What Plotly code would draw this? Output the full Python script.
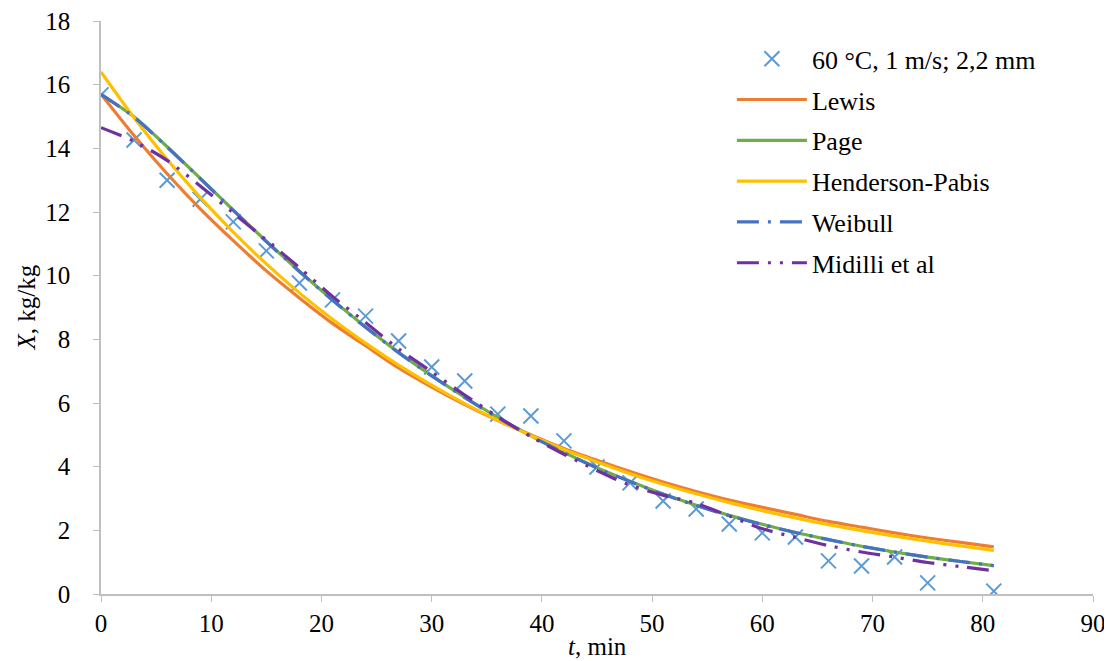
import plotly.graph_objects as go

t_exp = [0, 3, 6, 9, 12, 15, 18, 21, 24, 27, 30, 33, 36, 39, 42, 45, 48, 51, 54, 57, 60, 63, 66, 69, 72, 75, 81]
x_exp = [15.68, 14.26, 13.0, 12.4, 11.69, 10.78, 9.77, 9.24, 8.73, 7.95, 7.13, 6.69, 5.65, 5.59, 4.81, 3.99,
         3.49, 2.92, 2.67, 2.2, 1.92, 1.79, 1.04, 0.88, 1.16, 0.35, 0.09]

t_model = [0, 3, 6, 9, 12, 15, 18, 21, 24, 27, 30, 33, 36, 39, 42, 45, 48, 51, 54, 57, 60, 63, 66, 69, 72, 75, 78, 81]
lewis = [15.7, 14.4, 13.2, 12.1, 11.1, 10.15, 9.3, 8.5, 7.8, 7.1, 6.5, 5.95, 5.45, 5.0, 4.57, 4.2, 3.85, 3.52,
         3.22, 2.95, 2.72, 2.5, 2.28, 2.1, 1.92, 1.76, 1.62, 1.48]
page = [15.7, 14.99, 14.05, 13.06, 12.06, 11.08, 10.14, 9.24, 8.39, 7.59, 6.86, 6.18, 5.55, 4.97, 4.45, 3.97,
        3.54, 3.14, 2.79, 2.47, 2.19, 1.93, 1.71, 1.5, 1.32, 1.16, 1.02, 0.89]
henderson = [16.4, 14.96, 13.65, 12.46, 11.37, 10.37, 9.46, 8.63, 7.88, 7.19, 6.56, 5.98, 5.46, 4.98, 4.54, 4.15,
             3.78, 3.45, 3.15, 2.87, 2.62, 2.39, 2.18, 1.99, 1.82, 1.66, 1.51, 1.37]
weibull = [15.7, 14.98, 14.04, 13.05, 12.05, 11.07, 10.13, 9.23, 8.38, 7.58, 6.85, 6.17, 5.54, 4.96, 4.44, 3.96,
           3.53, 3.13, 2.78, 2.46, 2.18, 1.93, 1.71, 1.5, 1.32, 1.16, 1.02, 0.89]
midilli = [14.65, 14.22, 13.62, 12.82, 11.97, 11.12, 10.25, 9.35, 8.53, 7.7, 6.98, 6.25, 5.57, 4.94, 4.39, 3.88,
           3.42, 3.1, 2.85, 2.45, 2.05, 1.78, 1.52, 1.32, 1.16, 0.99, 0.86, 0.73]

series_names = ["Lewis", "Page", "Henderson-Pabis", "Weibull", "Midilli et al"]

SERIF = "Liberation Serif, Times New Roman, serif"

fig = go.Figure()
fig.add_trace(go.Scatter(x=t_exp, y=x_exp, mode="markers", name="60 °C, 1 m/s; 2,2 mm", legendgroup="g0",
                         marker=dict(symbol="x-thin-open", size=15, line=dict(width=2, color="#5B9BD5"),
                                     color="#5B9BD5")))
styles = [
    (lewis, "#ED7D31", "solid"),
    (page, "#70AD47", "solid"),
    (henderson, "#FFC000", "solid"),
    (weibull, "#4472C4", "22px,9px,3px,9px"),
    (midilli, "#7030A0", "22px,9px,3px,9px,3px,9px"),
]
for i, (name, (vals, col, dash)) in enumerate(zip(series_names, styles)):
    fig.add_trace(go.Scatter(x=t_model, y=vals, mode="lines", name=name, legendgroup=f"g{i+1}",
                             line=dict(color=col, width=3.2, dash=dash, shape="spline", smoothing=0.8)))

axis_common = dict(showline=True, linecolor="#BFBFBF", linewidth=1.5, ticks="outside", tickcolor="#BFBFBF",
                   ticklen=6, showgrid=False, zeroline=False, automargin=False, ticklabeloverflow="allow",
                   tickfont=dict(family=SERIF, size=25, color="#000000"))
fig.update_xaxes(range=[0, 90], dtick=10, **axis_common)
fig.update_yaxes(range=[0, 18], dtick=2, ticklabelstandoff=18, **axis_common)
# page body has an 8px margin, so the figure is slightly smaller and margins shifted
fig.update_layout(
    width=1104, height=653,
    margin=dict(l=93, r=19, t=13, b=67, autoexpand=False),
    plot_bgcolor="white", paper_bgcolor="white",
    font=dict(family=SERIF, color="#000"),
    legend=dict(x=0.636, y=0.975, xanchor="left", yanchor="top", bgcolor="rgba(255,255,255,0)",
                font=dict(family=SERIF, size=26, color="#000"), itemwidth=70, tracegroupgap=4),
    annotations=[
        dict(text="<i>t</i>, min", xref="paper", yref="paper", x=0.5, y=-0.064,
             xanchor="center", yanchor="top", showarrow=False,
             font=dict(family=SERIF, size=25, color="#000")),
        dict(text="<i>X</i>, kg/kg", xref="paper", yref="paper", x=-0.0746, y=0.5, textangle=-90,
             xanchor="center", yanchor="middle", showarrow=False,
             font=dict(family=SERIF, size=25, color="#000")),
    ],
)
fig.write_html("out.html")
